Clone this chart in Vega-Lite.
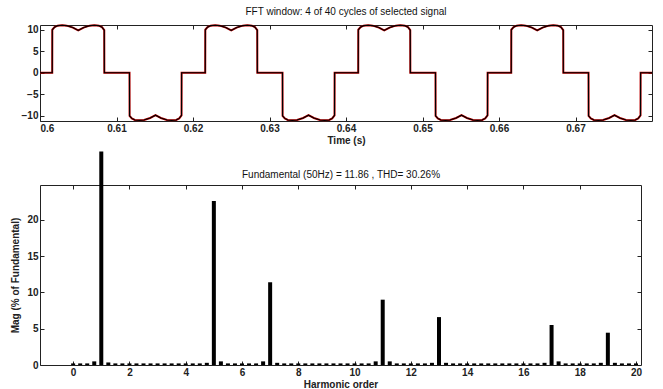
{
  "$schema": "https://vega.github.io/schema/vega-lite/v6.json",
  "padding": {"left": 10, "top": 6, "right": 8, "bottom": 0},
  "background": "white",
  "bounds": "flush",
  "spacing": 64,
  "config": {
    "font": "Liberation Sans",
    "view": {"stroke": "#222", "strokeWidth": 1},
    "axis": {"labelFont": "Liberation Sans", "labelFontSize": 10, "labelFontWeight": "bold", "labelColor": "#222", "tickColor": "#222", "tickSize": -4, "labelPadding": 6, "grid": false, "domain": false, "titleFont": "Liberation Sans", "titleFontSize": 10, "titleFontWeight": "bold", "titleColor": "#222", "titlePadding": 2},
    "title": {"font": "Liberation Sans", "fontSize": 10, "fontWeight": "normal", "color": "#111", "offset": 4}
  },
  "datasets": {
    "wave": [
      {"t":0.6,"v":0},
      {"t":0.6016,"v":0},{"t":0.60161,"v":10},{"t":0.6019,"v":10.6},{"t":0.6023,"v":10.95},{"t":0.6029,"v":11.05},{"t":0.6035,"v":10.95},{"t":0.6043,"v":10.5},{"t":0.605,"v":9.85},{"t":0.6057,"v":10.5},{"t":0.6065,"v":10.95},{"t":0.6071,"v":11.05},{"t":0.6077,"v":10.95},{"t":0.6081,"v":10.6},{"t":0.6084,"v":9.9},{"t":0.60841,"v":0},
      {"t":0.6117,"v":0},{"t":0.61171,"v":-10},{"t":0.612,"v":-10.6},{"t":0.6124,"v":-10.95},{"t":0.613,"v":-11.05},{"t":0.6136,"v":-10.95},{"t":0.6144,"v":-10.5},{"t":0.6151,"v":-9.85},{"t":0.6158,"v":-10.5},{"t":0.6166,"v":-10.95},{"t":0.6172,"v":-11.05},{"t":0.6178,"v":-10.95},{"t":0.6182,"v":-10.6},{"t":0.6185,"v":-9.9},{"t":0.61851,"v":0},
      {"t":0.6216,"v":0},{"t":0.62161,"v":10},{"t":0.6219,"v":10.6},{"t":0.6223,"v":10.95},{"t":0.6229,"v":11.05},{"t":0.6235,"v":10.95},{"t":0.6243,"v":10.5},{"t":0.625,"v":9.85},{"t":0.6257,"v":10.5},{"t":0.6265,"v":10.95},{"t":0.6271,"v":11.05},{"t":0.6277,"v":10.95},{"t":0.6281,"v":10.6},{"t":0.6284,"v":9.9},{"t":0.62841,"v":0},
      {"t":0.6317,"v":0},{"t":0.63171,"v":-10},{"t":0.632,"v":-10.6},{"t":0.6324,"v":-10.95},{"t":0.633,"v":-11.05},{"t":0.6336,"v":-10.95},{"t":0.6344,"v":-10.5},{"t":0.6351,"v":-9.85},{"t":0.6358,"v":-10.5},{"t":0.6366,"v":-10.95},{"t":0.6372,"v":-11.05},{"t":0.6378,"v":-10.95},{"t":0.6382,"v":-10.6},{"t":0.6385,"v":-9.9},{"t":0.63851,"v":0},
      {"t":0.6416,"v":0},{"t":0.64161,"v":10},{"t":0.6419,"v":10.6},{"t":0.6423,"v":10.95},{"t":0.6429,"v":11.05},{"t":0.6435,"v":10.95},{"t":0.6443,"v":10.5},{"t":0.645,"v":9.85},{"t":0.6457,"v":10.5},{"t":0.6465,"v":10.95},{"t":0.6471,"v":11.05},{"t":0.6477,"v":10.95},{"t":0.6481,"v":10.6},{"t":0.6484,"v":9.9},{"t":0.64841,"v":0},
      {"t":0.6517,"v":0},{"t":0.65171,"v":-10},{"t":0.652,"v":-10.6},{"t":0.6524,"v":-10.95},{"t":0.653,"v":-11.05},{"t":0.6536,"v":-10.95},{"t":0.6544,"v":-10.5},{"t":0.6551,"v":-9.85},{"t":0.6558,"v":-10.5},{"t":0.6566,"v":-10.95},{"t":0.6572,"v":-11.05},{"t":0.6578,"v":-10.95},{"t":0.6582,"v":-10.6},{"t":0.6585,"v":-9.9},{"t":0.65851,"v":0},
      {"t":0.6616,"v":0},{"t":0.66161,"v":10},{"t":0.6619,"v":10.6},{"t":0.6623,"v":10.95},{"t":0.6629,"v":11.05},{"t":0.6635,"v":10.95},{"t":0.6643,"v":10.5},{"t":0.665,"v":9.85},{"t":0.6657,"v":10.5},{"t":0.6665,"v":10.95},{"t":0.6671,"v":11.05},{"t":0.6677,"v":10.95},{"t":0.6681,"v":10.6},{"t":0.6684,"v":9.9},{"t":0.66841,"v":0},
      {"t":0.6717,"v":0},{"t":0.67171,"v":-10},{"t":0.672,"v":-10.6},{"t":0.6724,"v":-10.95},{"t":0.673,"v":-11.05},{"t":0.6736,"v":-10.95},{"t":0.6744,"v":-10.5},{"t":0.6751,"v":-9.85},{"t":0.6758,"v":-10.5},{"t":0.6766,"v":-10.95},{"t":0.6772,"v":-11.05},{"t":0.6778,"v":-10.95},{"t":0.6782,"v":-10.6},{"t":0.6785,"v":-9.9},{"t":0.67851,"v":0},
      {"t":0.68,"v":0}
    ],
    "fft": [
      {"h":0,"m":0.22},{"h":0.25,"m":0.22},{"h":0.5,"m":0.22},{"h":0.75,"m":0.5},{"h":1,"m":29.4},{"h":1.25,"m":0.35},{"h":1.5,"m":0.22},{"h":1.75,"m":0.22},
      {"h":2,"m":0.22},{"h":2.25,"m":0.22},{"h":2.5,"m":0.22},{"h":2.75,"m":0.22},{"h":3,"m":0.22},{"h":3.25,"m":0.22},{"h":3.5,"m":0.22},{"h":3.75,"m":0.22},
      {"h":4,"m":0.22},{"h":4.25,"m":0.22},{"h":4.5,"m":0.22},{"h":4.75,"m":0.3},{"h":5,"m":22.6},{"h":5.25,"m":0.5},{"h":5.5,"m":0.22},{"h":5.75,"m":0.22},
      {"h":6,"m":0.22},{"h":6.25,"m":0.22},{"h":6.5,"m":0.22},{"h":6.75,"m":0.5},{"h":7,"m":11.4},{"h":7.25,"m":0.3},{"h":7.5,"m":0.22},{"h":7.75,"m":0.22},
      {"h":8,"m":0.22},{"h":8.25,"m":0.22},{"h":8.5,"m":0.22},{"h":8.75,"m":0.22},{"h":9,"m":0.22},{"h":9.25,"m":0.22},{"h":9.5,"m":0.22},{"h":9.75,"m":0.22},
      {"h":10,"m":0.22},{"h":10.25,"m":0.22},{"h":10.5,"m":0.22},{"h":10.75,"m":0.5},{"h":11,"m":9.0},{"h":11.25,"m":0.5},{"h":11.5,"m":0.22},{"h":11.75,"m":0.22},
      {"h":12,"m":0.22},{"h":12.25,"m":0.22},{"h":12.5,"m":0.22},{"h":12.75,"m":0.3},{"h":13,"m":6.6},{"h":13.25,"m":0.3},{"h":13.5,"m":0.22},{"h":13.75,"m":0.22},
      {"h":14,"m":0.22},{"h":14.25,"m":0.22},{"h":14.5,"m":0.22},{"h":14.75,"m":0.22},{"h":15,"m":0.22},{"h":15.25,"m":0.22},{"h":15.5,"m":0.22},{"h":15.75,"m":0.22},
      {"h":16,"m":0.22},{"h":16.25,"m":0.22},{"h":16.5,"m":0.22},{"h":16.75,"m":0.3},{"h":17,"m":5.5},{"h":17.25,"m":0.5},{"h":17.5,"m":0.22},{"h":17.75,"m":0.22},
      {"h":18,"m":0.22},{"h":18.25,"m":0.22},{"h":18.5,"m":0.22},{"h":18.75,"m":0.3},{"h":19,"m":4.45},{"h":19.25,"m":0.3},{"h":19.5,"m":0.22},{"h":19.75,"m":0.22},
      {"h":20,"m":0.22}
    ]
  },
  "vconcat": [
    {
      "width": 612,
      "height": 96,
      "title": {"text": "FFT window: 4 of 40 cycles of selected signal"},
      "data": {"name": "wave"},
      "layer": [
        {
          "mark": {"type": "line", "color": "#c00000", "strokeWidth": 2},
          "encoding": {
            "x": {"field": "t", "type": "quantitative", "scale": {"domain": [0.6, 0.68], "nice": false, "zero": false}, "axis": {"values": [0.6, 0.61, 0.62, 0.63, 0.64, 0.65, 0.66, 0.67], "format": "~g", "title": "Time (s)"}},
            "y": {"field": "v", "type": "quantitative", "scale": {"domain": [-11.2, 11.1], "nice": false}, "axis": {"values": [-10, -5, 0, 5, 10], "title": null}}
          }
        },
        {
          "mark": {"type": "line", "color": "#000000", "strokeWidth": 1.1},
          "encoding": {
            "x": {"field": "t", "type": "quantitative", "axis": {"orient": "top", "values": [0.61, 0.62, 0.63, 0.64, 0.65, 0.66, 0.67], "labels": false, "title": null}},
            "y": {"field": "v", "type": "quantitative", "axis": {"orient": "right", "values": [-10, -5, 0, 5, 10], "labels": false, "title": null}}
          }
        }
      ],
      "resolve": {"axis": {"x": "independent", "y": "independent"}}
    },
    {
      "width": 601,
      "height": 180,
      "data": {"name": "fft"},
      "layer": [
        {
          "mark": {"type": "bar", "color": "#000000", "size": 4, "clip": false},
          "encoding": {
            "x": {"field": "h", "type": "quantitative", "scale": {"domain": [-1, 20], "nice": false, "zero": false}, "axis": {"values": [0, 2, 4, 6, 8, 10, 12, 14, 16, 18, 20], "title": "Harmonic order"}},
            "y": {"field": "m", "type": "quantitative", "scale": {"domain": [0, 24.8], "nice": false}, "axis": {"values": [0, 5, 10, 15, 20], "title": "Mag (% of Fundamental)", "titlePadding": 6}}
          }
        },
        {
          "mark": {"type": "point", "opacity": 0},
          "encoding": {
            "x": {"field": "h", "type": "quantitative", "axis": {"orient": "top", "values": [0, 2, 4, 6, 8, 10, 12, 14, 16, 18], "labels": false, "title": "Fundamental (50Hz) = 11.86 , THD= 30.26%", "titleFontWeight": "normal", "titleColor": "#111", "titlePadding": 5}},
            "y": {"field": "m", "type": "quantitative", "axis": {"orient": "right", "values": [5, 10, 15, 20], "labels": false, "title": null}}
          }
        }
      ],
      "resolve": {"axis": {"x": "independent", "y": "independent"}}
    }
  ]
}
